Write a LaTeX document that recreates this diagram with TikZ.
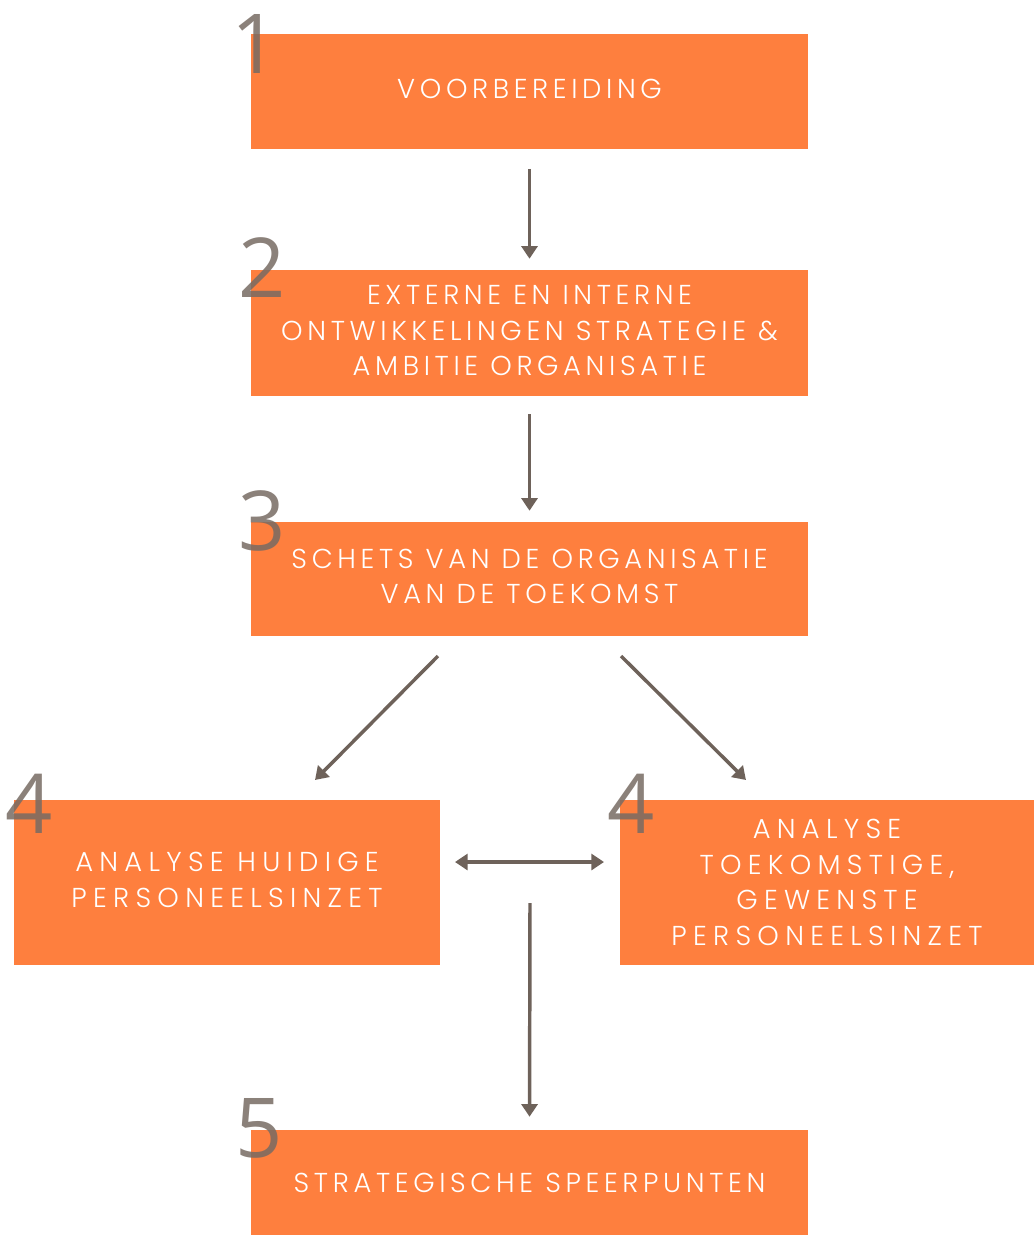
\documentclass[tikz,border=0pt]{standalone}
\usepackage{fontspec}
\setmainfont{Poppins}
\newfontfamily\boxfont[LetterSpace=17]{Poppins Light}
\newfontfamily\boxfontw[LetterSpace=23]{Poppins Light}
\newfontfamily\numfont{Open Sans}
\usetikzlibrary{arrows.meta}
\definecolor{boxorange}{HTML}{FE7F3E}
\definecolor{arrgray}{HTML}{6E625A}
\definecolor{numgray}{HTML}{776B63}
\tikzset{
  box/.style={fill=boxorange, inner sep=0pt, align=center, text=white,
    font=\boxfont\fontsize{20.5}{26.7}\selectfont},
  boxw/.style={box, font=\boxfontw\fontsize{20.5}{26.7}\selectfont},
  num/.style={anchor=base west, inner sep=0pt, text=numgray, text opacity=0.85,
    font=\numfont\fontsize{62}{62}\selectfont},
  arr/.style={draw=arrgray, line width=2.6pt, -{Triangle[length=9.5pt,width=12pt]}},
  darr/.style={draw=arrgray, line width=2.6pt, {Triangle[length=9.5pt,width=12pt]}-{Triangle[length=9.5pt,width=12pt]}}
}
\begin{document}
\begin{tikzpicture}[x=0.75pt,y=-0.75pt]
\useasboundingbox (0,0) rectangle (1034,1236);
% boxes
\node[box, minimum width=557*0.75pt, minimum height=115*0.75pt] (b1) at (529.5,91) {\raisebox{3pt}{VOORBEREIDING}};
\node[box, minimum width=557*0.75pt, minimum height=126*0.75pt] (b2) at (529.5,333) {\raisebox{3pt}{\begin{tabular}{@{}c@{}}EXTERNE EN INTERNE\\ONTWIKKELINGEN STRATEGIE \&\\AMBITIE ORGANISATIE\end{tabular}}};
\node[box, minimum width=557*0.75pt, minimum height=114*0.75pt] (b3) at (529.5,579) {\raisebox{3pt}{\begin{tabular}{@{}c@{}}SCHETS VAN DE ORGANISATIE\\VAN DE TOEKOMST\end{tabular}}};
\node[boxw, minimum width=426*0.75pt, minimum height=165*0.75pt] (b4l) at (227,882.5) {\raisebox{2pt}{\begin{tabular}{@{}c@{}}ANALYSE HUIDIGE\\PERSONEELSINZET\end{tabular}}};
\node[boxw, minimum width=414*0.75pt, minimum height=165*0.75pt] (b4r) at (827,882.5) {ANALYSE\\TOEKOMSTIGE,\\GEWENSTE\\PERSONEELSINZET};
\node[box, minimum width=557*0.75pt, minimum height=105*0.75pt] (b5) at (529.5,1182.5) {STRATEGISCHE SPEERPUNTEN};
% numbers
\node[num] (n1) at (231,73) {1};
\node[num] (n2) at (238,297) {2};
\node[num] (n3) at (238,550) {3};
\node[num] (n4l) at (5,833) {4};
\node[num] (n4r) at (607,833) {4};
\node[num] (n5) at (235,1157) {5};
% connector points
\coordinate (d1s) at (438,656);
\coordinate (d1e) at (315,780);
\coordinate (d2s) at (621,656);
\coordinate (d2e) at (746,780);
\coordinate (hl) at (455,862);
\coordinate (hr) at (604,862);
\coordinate (vs) at (530,903);
% connectors
\draw[arr, shorten <=20*0.75pt, shorten >=11*0.75pt] (b1.south) -- (b2.north);
\draw[arr, shorten <=18*0.75pt, shorten >=11*0.75pt] (b2.south) -- (b3.north);
\draw[arr] (d1s) -- (d1e);
\draw[arr] (d2s) -- (d2e);
\draw[darr] (hl) -- (hr);
\draw[arr, shorten >=13*0.75pt] (vs) -- (b5.north);
\end{tikzpicture}
\end{document}
